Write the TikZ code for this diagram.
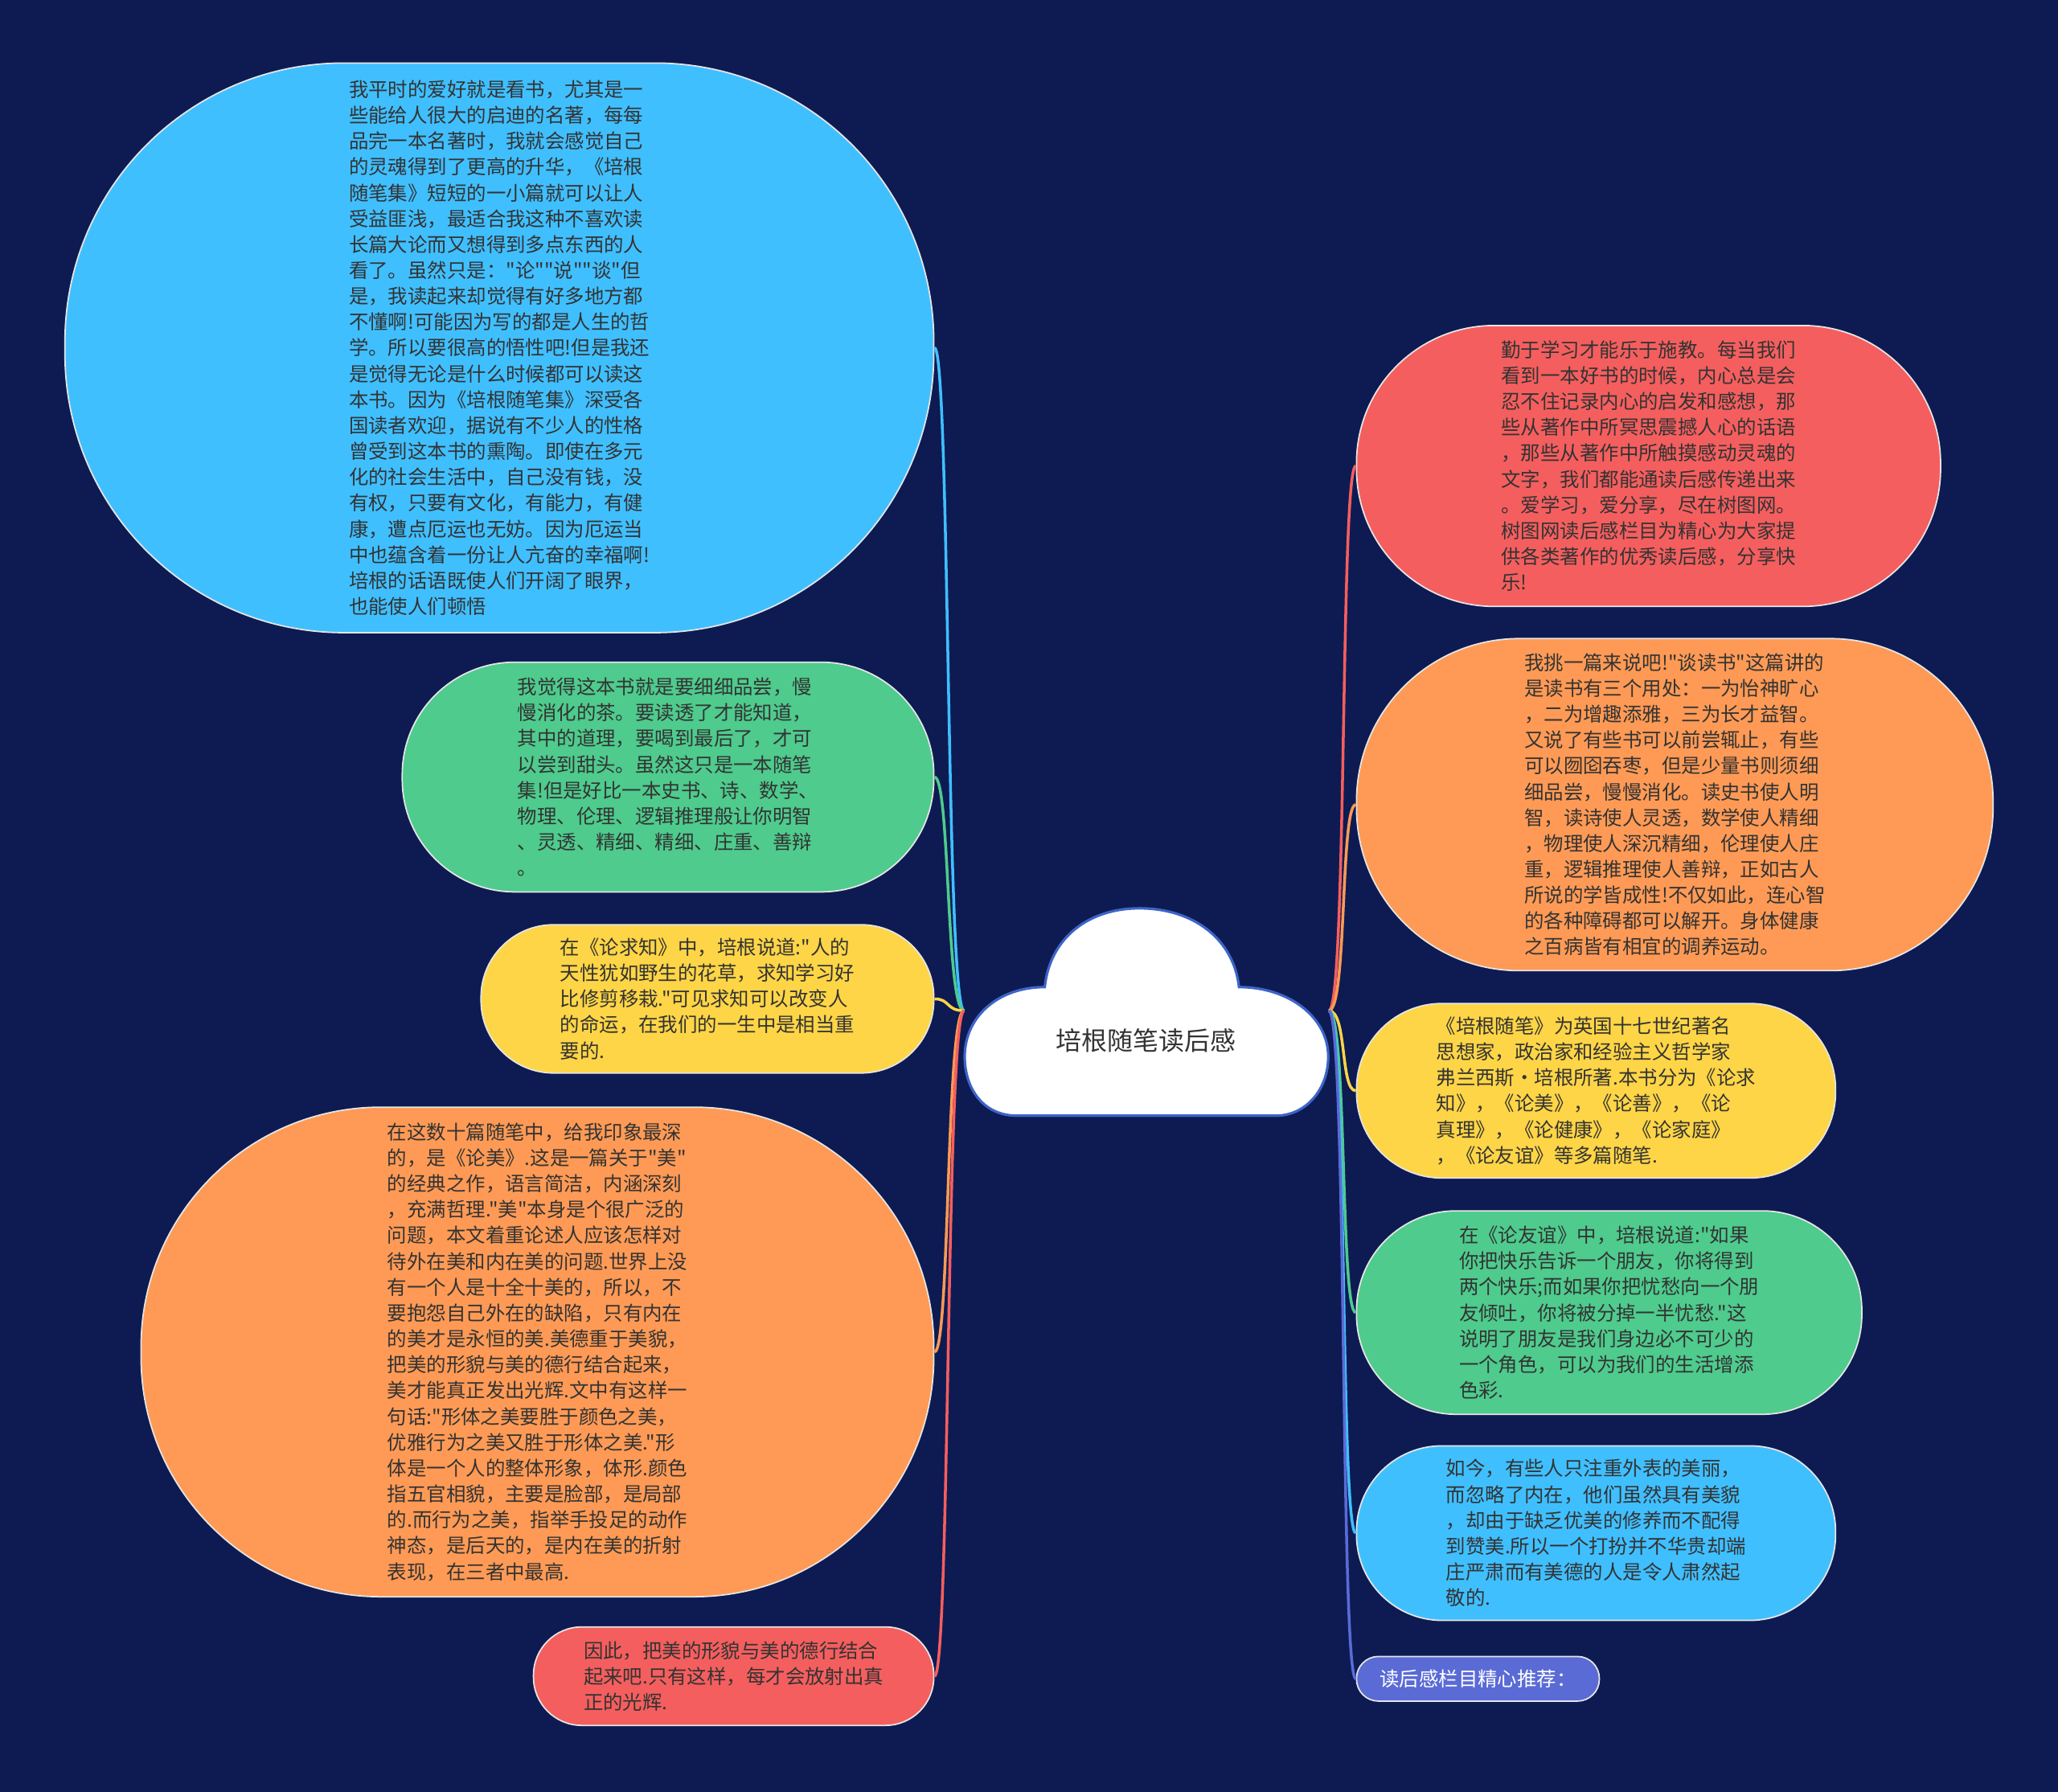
\documentclass[tikz,border=0pt]{standalone}
\usepackage{fontspec}
\setmainfont{Noto Sans CJK SC}[Ligatures=TeXOff]
\usepackage{tikz}
\usetikzlibrary{positioning}
\definecolor{MapNavy}{RGB}{13,27,82}
\definecolor{MapBlue}{RGB}{64,191,255}
\definecolor{MapGreen}{RGB}{78,203,141}
\definecolor{MapYellow}{RGB}{254,213,70}
\definecolor{MapOrange}{RGB}{254,154,85}
\definecolor{MapRed}{RGB}{245,94,94}
\definecolor{MapPurple}{RGB}{90,107,214}
\definecolor{CloudLine}{RGB}{62,100,200}
\newcommand{\pxu}{0.16327mm}

\begin{document}
\begin{tikzpicture}[x=0.16327mm, y=-0.16327mm,
          leaf/.style={draw=white!90!black, line width=0.5pt, align=left,
                       text=black!80, font=\fontsize{6.95}{9.15}\selectfont},
          pill/.style 2 args={minimum width=#1*\pxu, minimum height=#2*\pxu,
                       rounded corners=#2*0.49*\pxu},
          branch/.style={line width=1pt},
          cloud/.style={draw=CloudLine, fill=white, line width=0.9pt}
        ]
        \useasboundingbox (0,0) rectangle (1568,1365);
        \fill[MapNavy] (0,0) rectangle (1568,1365);

        % Root cloud
        \draw[cloud] (775,850) .. controls (748,850) and (735,828) .. (735,805)
              .. controls (735,775) and (760,752) .. (796,752)
              .. controls (800,714) and (830,692) .. (868,692)
              .. controls (910,692) and (940,716) .. (944,752)
              .. controls (982,752) and (1012,775) .. (1012,805)
              .. controls (1012,830) and (995,850) .. (972,850) -- cycle;
        \node[minimum width=277*\pxu, minimum height=160*\pxu] (root) at (873.5,770) {};
        \node[font=\fontsize{9.1}{11}\selectfont, text=black!80] (title) at (873,793) {培根随笔读后感};

        % Left branches
        \node[leaf, fill=MapBlue, pill={662}{434}, anchor=east] (l1) at (712,265)
              {我平时的爱好就是看书，尤其是一\\些能给人很大的启迪的名著，每每\\品完一本名著时，我就会感觉自己\\的灵魂得到了更高的升华，《培根\\随笔集》短短的一小篇就可以让人\\受益匪浅，最适合我这种不喜欢读\\长篇大论而又想得到多点东西的人\\看了。虽然只是："论""说""谈"但\\是，我读起来却觉得有好多地方都\\不懂啊!可能因为写的都是人生的哲\\学。所以要很高的悟性吧!但是我还\\是觉得无论是什么时候都可以读这\\本书。因为《培根随笔集》深受各\\国读者欢迎，据说有不少人的性格\\曾受到这本书的熏陶。即使在多元\\化的社会生活中，自己没有钱，没\\有权，只要有文化，有能力，有健\\康，遭点厄运也无妨。因为厄运当\\中也蕴含着一份让人亢奋的幸福啊!\\培根的话语既使人们开阔了眼界，\\也能使人们顿悟};
        \node[leaf, fill=MapGreen, pill={405}{175}, anchor=east] (l2) at (712,592)
              {我觉得这本书就是要细细品尝，慢\\慢消化的茶。要读透了才能知道，\\其中的道理，要喝到最后了，才可\\以尝到甜头。虽然这只是一本随笔\\集!但是好比一本史书、诗、数学、\\物理、伦理、逻辑推理般让你明智\\、灵透、精细、精细、庄重、善辩\\。};
        \node[leaf, fill=MapYellow, pill={345}{113}, anchor=east] (l3) at (712,761)
              {在《论求知》中，培根说道:"人的\\天性犹如野生的花草，求知学习好\\比修剪移栽."可见求知可以改变人\\的命运，在我们的一生中是相当重\\要的.};
        \node[leaf, fill=MapOrange, pill={604}{373}, anchor=east] (l4) at (712,1030)
              {在这数十篇随笔中，给我印象最深\\的，是《论美》.这是一篇关于"美"\\的经典之作，语言简洁，内涵深刻\\，充满哲理."美"本身是个很广泛的\\问题，本文着重论述人应该怎样对\\待外在美和内在美的问题.世界上没\\有一个人是十全十美的，所以，不\\要抱怨自己外在的缺陷，只有内在\\的美才是永恒的美.美德重于美貌，\\把美的形貌与美的德行结合起来，\\美才能真正发出光辉.文中有这样一\\句话:"形体之美要胜于颜色之美，\\优雅行为之美又胜于形体之美."形\\体是一个人的整体形象，体形.颜色\\指五官相貌，主要是脸部，是局部\\的.而行为之美，指举手投足的动作\\神态，是后天的，是内在美的折射\\表现，在三者中最高.};
        \node[leaf, fill=MapRed, pill={305}{75}, anchor=east] (l5) at (712,1277)
              {因此，把美的形貌与美的德行结合\\起来吧.只有这样，每才会放射出真\\正的光辉.};

        % Right branches
        \node[leaf, fill=MapRed, pill={445}{214}, anchor=west] (r1) at (1033,355)
              {勤于学习才能乐于施教。每当我们\\看到一本好书的时候，内心总是会\\忍不住记录内心的启发和感想，那\\些从著作中所冥思震撼人心的话语\\，那些从著作中所触摸感动灵魂的\\文字，我们都能通读后感传递出来\\。爱学习，爱分享，尽在树图网。\\树图网读后感栏目为精心为大家提\\供各类著作的优秀读后感，分享快\\乐!};
        \node[leaf, fill=MapOrange, pill={485}{253}, anchor=west] (r2) at (1033,613)
              {我挑一篇来说吧!"谈读书"这篇讲的\\是读书有三个用处：一为怡神旷心\\，二为增趣添雅，三为长才益智。\\又说了有些书可以前尝辄止，有些\\可以囫囵吞枣，但是少量书则须细\\细品尝，慢慢消化。读史书使人明\\智，读诗使人灵透，数学使人精细\\，物理使人深沉精细，伦理使人庄\\重，逻辑推理使人善辩，正如古人\\所说的学皆成性!不仅如此，连心智\\的各种障碍都可以解开。身体健康\\之百病皆有相宜的调养运动。};
        \node[leaf, fill=MapYellow, pill={365}{133}, anchor=west] (r3) at (1033,831)
              {《培根随笔》为英国十七世纪著名\\思想家，政治家和经验主义哲学家\\弗兰西斯·培根所著.本书分为《论求\\知》，《论美》，《论善》，《论\\真理》，《论健康》，《论家庭》\\，《论友谊》等多篇随笔.};
        \node[leaf, fill=MapGreen, pill={385}{155}, anchor=west] (r4) at (1033,1000)
              {在《论友谊》中，培根说道:"如果\\你把快乐告诉一个朋友，你将得到\\两个快乐;而如果你把忧愁向一个朋\\友倾吐，你将被分掉一半忧愁."这\\说明了朋友是我们身边必不可少的\\一个角色，可以为我们的生活增添\\色彩.};
        \node[leaf, fill=MapBlue, pill={365}{133}, anchor=west] (r5) at (1033,1168)
              {如今，有些人只注重外表的美丽，\\而忽略了内在，他们虽然具有美貌\\，却由于缺乏优美的修养而不配得\\到赞美.所以一个打扮并不华贵却端\\庄严肃而有美德的人是令人肃然起\\敬的.};
        \node[leaf, fill=MapPurple, text=white, pill={185}{34}, anchor=west] (r6) at (1033,1279)
              {读后感栏目精心推荐：};

        % Connectors
        \foreach \n/\c in {l1/MapBlue, l2/MapGreen, l3/MapYellow, l4/MapOrange, l5/MapRed}
          \draw[branch, draw=\c] (root.west) .. controls +(-14,0) and +(12,0) .. (\n.east);
        \foreach \n/\c in {r1/MapRed, r2/MapOrange, r3/MapYellow, r4/MapGreen, r5/MapBlue, r6/MapPurple}
          \draw[branch, draw=\c] (root.east) .. controls +(14,0) and +(-12,0) .. (\n.west);
      \end{tikzpicture}
\end{document}
